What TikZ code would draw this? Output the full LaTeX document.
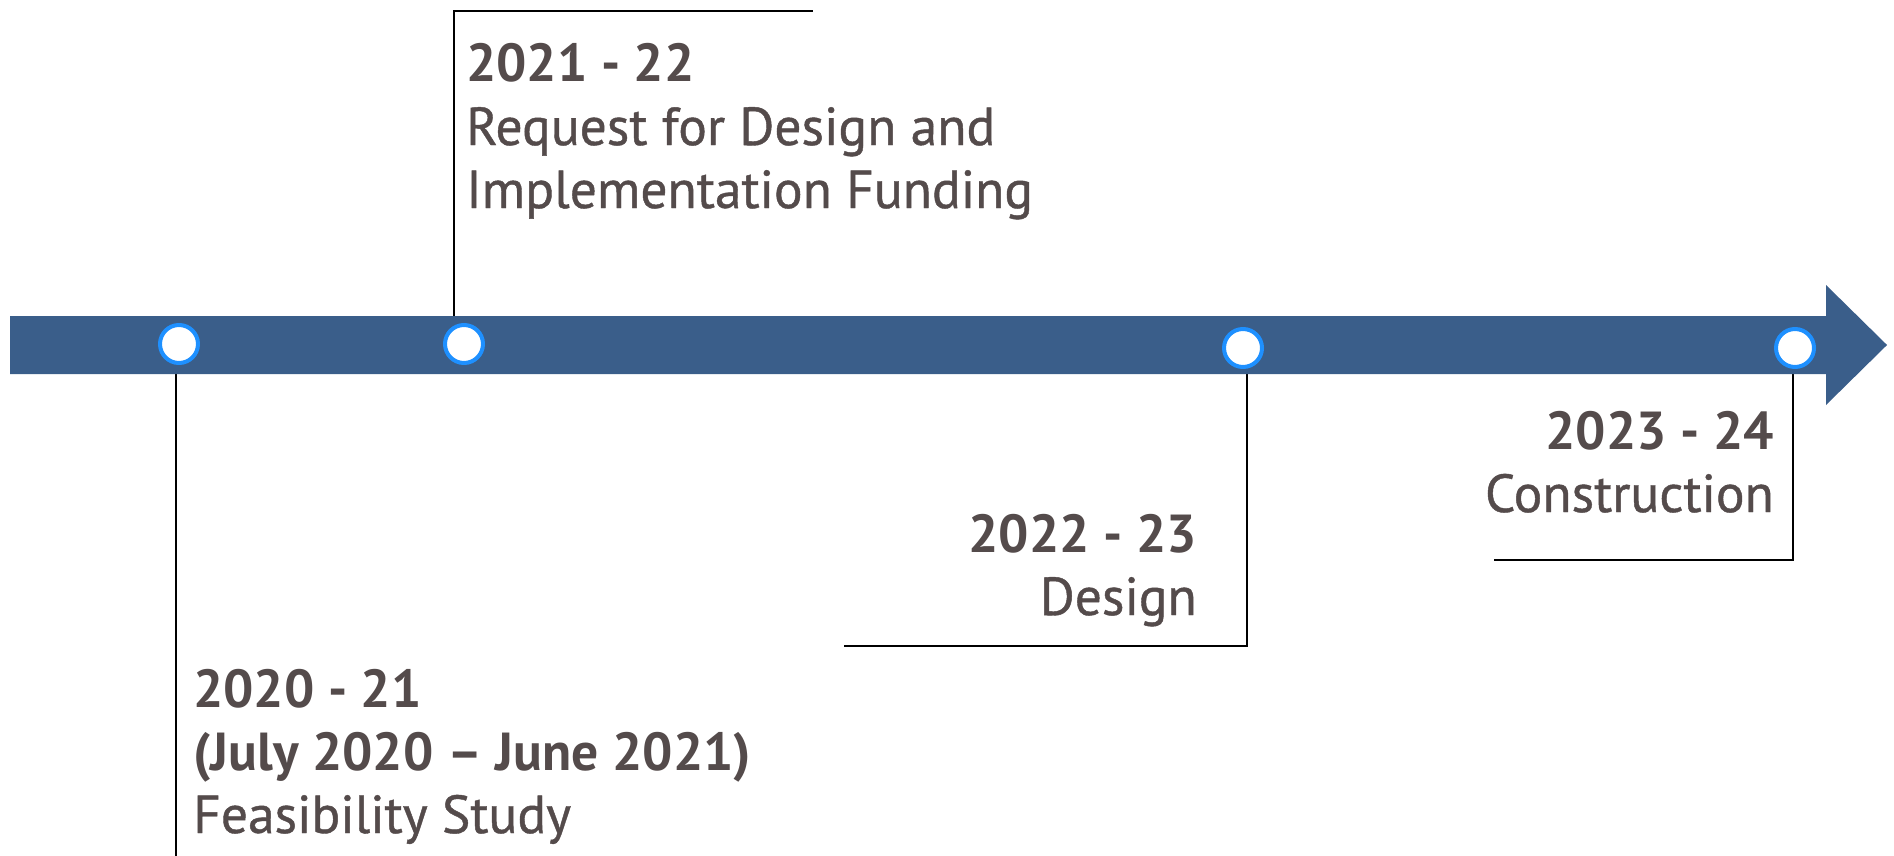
\documentclass[tikz,border=0pt]{standalone}
\usepackage{fontspec}
\setmainfont{PT Sans}
\newfontfamily\medfont[FakeBold=0.8]{PT Sans}
\usetikzlibrary{backgrounds}
\definecolor{barblue}{RGB}{58,94,138}
\definecolor{ringblue}{RGB}{30,144,255}
\definecolor{txt}{RGB}{84,75,75}
\tikzset{
  ms/.style={circle,draw=ringblue,line width=4pt,fill=white,minimum size=38pt,inner sep=0pt},
  lead/.style={draw=black,line width=1.6pt},
  yr/.style={text=txt,inner sep=0pt,font=\fontsize{53.5}{60}\selectfont\bfseries},
  lbl/.style={text=txt,inner sep=0pt,font=\fontsize{53.5}{60}\selectfont\medfont},
}
\begin{document}
\begin{tikzpicture}[x=1pt,y=-1pt]
\useasboundingbox (0,0) rectangle (1894,856);
\fill[barblue] (10,316) -- (1826,316) -- (1826,285) -- (1887,345) -- (1826,405) -- (1826,374) -- (10,374) -- cycle;
\node[ms] (c1) at (179,344) {};
\node[ms] (c2) at (464,344) {};
\node[ms] (c3) at (1243,348) {};
\node[ms] (c4) at (1795,348) {};
\coordinate (k1) at (176,856);
\coordinate (k2) at (454,11);
\coordinate (h2) at (813,11);
\coordinate (k3) at (1247,646);
\coordinate (h3) at (844,646);
\coordinate (k4) at (1793,560);
\coordinate (h4) at (1494,560);
\begin{scope}[on background layer]
\draw[lead] (c1.center -| k1) -- (k1);
\draw[lead] (c2.center -| k2) |- (h2);
\draw[lead] (c3.center -| k3) |- (h3);
\draw[lead] (c4.center -| k4) |- (h4);
\end{scope}
\node[yr,anchor=base west] (t2a) at (466,82) {2021 - 22};
\node[lbl,anchor=base west] (t2b) at (466,145) {Request for Design and};
\node[lbl,anchor=base west] (t2c) at (466,208) {Implementation Funding};
\node[yr,anchor=base west] (t1a) at (193,707) {2020 - 21};
\node[yr,anchor=base west] (t1b) at (193,770) {(July 2020 – June 2021)};
\node[lbl,anchor=base west] (t1c) at (193,833) {Feasibility Study};
\node[yr,anchor=base east] (t3a) at (1197,552) {2022 - 23};
\node[lbl,anchor=base east] (t3b) at (1197,615) {Design};
\node[yr,anchor=base east] (t4a) at (1774,449) {2023 - 24};
\node[lbl,anchor=base east] (t4b) at (1774,512) {Construction};
\end{tikzpicture}
\end{document}
